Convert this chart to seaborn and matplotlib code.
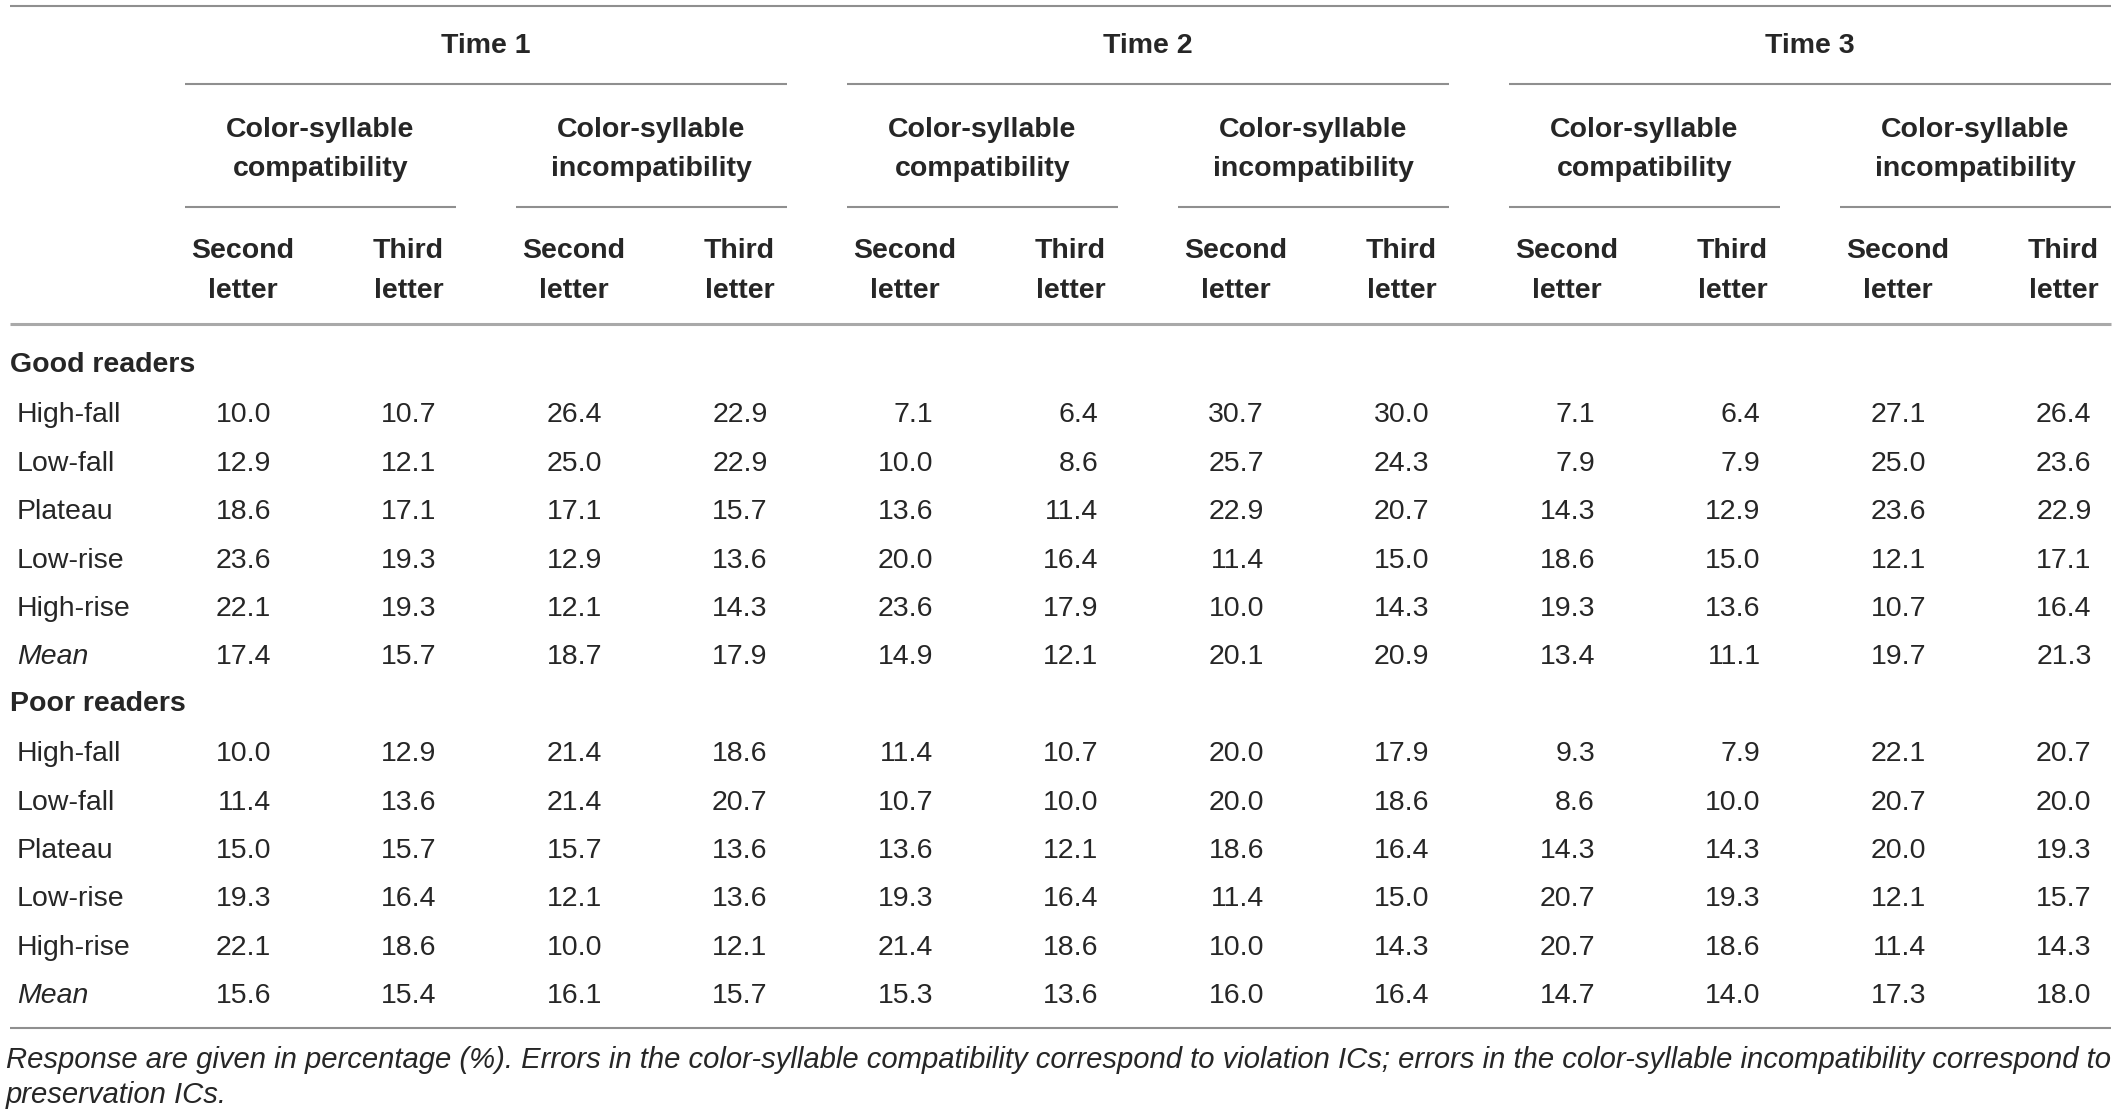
import pandas as pd
import seaborn as sns
import matplotlib.pyplot as plt

times = ['Time 1', 'Time 2', 'Time 3']
conditions = ['Color-syllable\ncompatibility', 'Color-syllable\nincompatibility']
letters = ['Second\nletter', 'Third\nletter']
groups = ['Good readers', 'Poor readers']
tones = ['High-fall', 'Low-fall', 'Plateau', 'Low-rise', 'High-rise', 'Mean']

# columns: T1 comp 2nd, 3rd, T1 incomp 2nd, 3rd, T2 ..., T3 ...
good_readers = [
    [10.0, 10.7, 26.4, 22.9, 7.1, 6.4, 30.7, 30.0, 7.1, 6.4, 27.1, 26.4],
    [12.9, 12.1, 25.0, 22.9, 10.0, 8.6, 25.7, 24.3, 7.9, 7.9, 25.0, 23.6],
    [18.6, 17.1, 17.1, 15.7, 13.6, 11.4, 22.9, 20.7, 14.3, 12.9, 23.6, 22.9],
    [23.6, 19.3, 12.9, 13.6, 20.0, 16.4, 11.4, 15.0, 18.6, 15.0, 12.1, 17.1],
    [22.1, 19.3, 12.1, 14.3, 23.6, 17.9, 10.0, 14.3, 19.3, 13.6, 10.7, 16.4],
    [17.4, 15.7, 18.7, 17.9, 14.9, 12.1, 20.1, 20.9, 13.4, 11.1, 19.7, 21.3],
]
poor_readers = [
    [10.0, 12.9, 21.4, 18.6, 11.4, 10.7, 20.0, 17.9, 9.3, 7.9, 22.1, 20.7],
    [11.4, 13.6, 21.4, 20.7, 10.7, 10.0, 20.0, 18.6, 8.6, 10.0, 20.7, 20.0],
    [15.0, 15.7, 15.7, 13.6, 13.6, 12.1, 18.6, 16.4, 14.3, 14.3, 20.0, 19.3],
    [19.3, 16.4, 12.1, 13.6, 19.3, 16.4, 11.4, 15.0, 20.7, 19.3, 12.1, 15.7],
    [22.1, 18.6, 10.0, 12.1, 21.4, 18.6, 10.0, 14.3, 20.7, 18.6, 11.4, 14.3],
    [15.6, 15.4, 16.1, 15.7, 15.3, 13.6, 16.0, 16.4, 14.7, 14.0, 17.3, 18.0],
]
footnote = ['Response are given in percentage (%). Errors in the color-syllable compatibility correspond to '
            'violation ICs; errors in the color-syllable incompatibility correspond to',
            'preservation ICs.']

sns.set_theme(style='white')
plt.rcParams['font.family'] = ['Liberation Sans', 'DejaVu Sans']

W, H = 2117, 1115
fig = plt.figure(figsize=(W / 100, H / 100), dpi=100)
ax = fig.add_axes([0, 0, 1, 1])
ax.set_xlim(0, W)
ax.set_ylim(H, 0)
ax.axis('off')

txt = '#262626'
line_c = '#8f8f8f'
fs = 20.5

# layout in pixels
col_x = [243 + 165.5 * k for k in range(12)]
left, right = 10, 2111


def hline(y, x0, x1, color=line_c, lw=1.5):
    ax.plot([x0, x1], [y, y], color=color, lw=lw, solid_capstyle='butt')


hline(6, left, right)
for i, t in enumerate(times):
    c = col_x[4 * i:4 * i + 4]
    x0, x1 = c[0] - 58, c[3] + 47
    ax.text((x0 + x1) / 2, 53, t, ha='center', va='baseline',
            fontsize=fs, fontweight='bold', color=txt)
    hline(84, x0, x1)
    for j, cond in enumerate(conditions):
        cc = c[2 * j:2 * j + 2]
        s0, s1 = cc[0] - 58, cc[1] + 47
        top, bot = cond.split('\n')
        ax.text((s0 + s1) / 2, 137, top, ha='center', va='baseline',
                fontsize=fs, fontweight='bold', color=txt)
        ax.text((s0 + s1) / 2, 176, bot, ha='center', va='baseline',
                fontsize=fs, fontweight='bold', color=txt)
        hline(207, s0, s1)
        for k, let in enumerate(letters):
            a, b = let.split('\n')
            ax.text(cc[k], 258, a, ha='center', va='baseline',
                    fontsize=fs, fontweight='bold', color=txt)
            ax.text(cc[k], 298, b, ha='center', va='baseline',
                    fontsize=fs, fontweight='bold', color=txt)

hline(324, left, right, color='#a9a9a9', lw=2.2)

rows = pd.DataFrame(good_readers + poor_readers, columns=range(12))
rows['group'] = [groups[0]] * len(tones) + [groups[1]] * len(tones)
rows['tone'] = tones * 2

pitch = 48.4
r = 0
for g in groups:
    y = 363 + pitch * r
    ax.text(10, y + 9, g, ha='left', va='baseline', fontsize=fs,
            fontweight='bold', color=txt)
    r += 1
    for _, row in rows[rows['group'] == g].iterrows():
        y = 363 + pitch * r
        style = 'italic' if row['tone'] == 'Mean' else 'normal'
        ax.text(17, y + 11, row['tone'], ha='left', va='baseline',
                fontsize=fs, style=style, color=txt)
        for k in range(12):
            ax.text(col_x[k] + 28, y + 11, f'{row[k]:.1f}', ha='right',
                    va='baseline', fontsize=fs, color=txt)
        r += 1

hline(1028, left, right)

# footnote, first line sized to fill the table width
f1 = ax.text(6, 1068, footnote[0], ha='left', va='baseline', fontsize=18,
             style='italic', color=txt)
fig.canvas.draw()
w = f1.get_window_extent(fig.canvas.get_renderer()).width
f1.set_fontsize(18 * (right - 6) / w)
ax.text(6, 1103, footnote[1], ha='left', va='baseline',
        fontsize=f1.get_fontsize(), style='italic', color=txt)

fig.savefig('out.png', dpi=100, facecolor='white')
